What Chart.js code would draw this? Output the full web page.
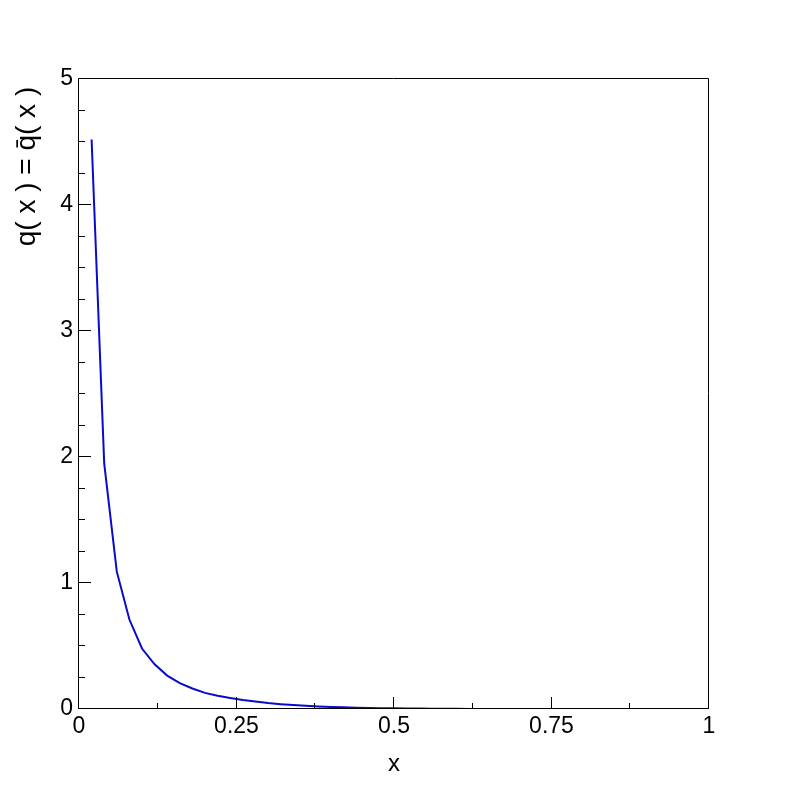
<!DOCTYPE html>
<html>
<head>
<meta charset="utf-8">
<script src="https://cdn.jsdelivr.net/npm/chart.js@4.4.1/dist/chart.umd.min.js"></script>
<style>
  body { margin: 0; background: #fff; }
  #wrap { width: 788px; height: 788px; }
</style>
</head>
<body>
<div id="wrap"><canvas id="pdfChart"></canvas></div>
<script>
const xValues = [0.02, 0.04, 0.06, 0.08, 0.10, 0.12, 0.14, 0.16, 0.18, 0.20,
  0.22, 0.24, 0.26, 0.28, 0.30, 0.32, 0.34, 0.36, 0.38, 0.40,
  0.42, 0.44, 0.46, 0.48, 0.50, 0.52, 0.54, 0.56, 0.58, 0.60, 0.62];
const qValues = [4.52, 1.95, 1.09, 0.71, 0.48, 0.355, 0.265, 0.205, 0.163, 0.128,
  0.105, 0.088, 0.072, 0.059, 0.047, 0.038, 0.031, 0.025, 0.020, 0.016,
  0.013, 0.010, 0.008, 0.006, 0.005, 0.004, 0.003, 0.002, 0.0015, 0.001, 0.0005];
const xTickLabels = ["0", "0.25", "0.5", "0.75", "1"];
const yTickLabels = ["0", "1", "2", "3", "4", "5"];

const points = xValues.map((x, i) => ({ x: x, y: qValues[i] }));

// frame plus inward ticks, ROOT style
const framePlugin = {
  id: "frame",
  afterDraw(chart) {
    const { ctx, chartArea: a, scales } = chart;
    ctx.save();
    ctx.strokeStyle = "#000";
    ctx.lineWidth = 1;
    ctx.beginPath();
    ctx.rect(a.left - 0.5, a.top - 0.5, a.right - a.left, a.bottom - a.top);
    // x ticks
    for (let v = 0; v <= 1.0001; v += 0.125) {
      const px = Math.round(scales.x.getPixelForValue(v)) - 0.5;
      const len = Math.abs(v / 0.25 - Math.round(v / 0.25)) < 1e-6 ? 12 : 6;
      ctx.moveTo(px, a.bottom);
      ctx.lineTo(px, a.bottom - len);
    }
    // y ticks
    for (let v = 0; v <= 5.0001; v += 0.25) {
      const py = Math.round(scales.y.getPixelForValue(v)) - 0.5;
      const len = Math.abs(v - Math.round(v)) < 1e-6 ? 12 : 6;
      ctx.moveTo(a.left, py);
      ctx.lineTo(a.left + len, py);
    }
    ctx.stroke();
    ctx.restore();
  },
};

new Chart(document.getElementById("pdfChart"), {
  type: "line",
  data: {
    datasets: [
      {
        data: points,
        borderColor: "#0a0acc",
        borderWidth: 2,
        pointRadius: 0,
        tension: 0,
        fill: false,
      },
    ],
  },
  options: {
    responsive: true,
    maintainAspectRatio: false,
    animation: false,
    layout: { padding: { left: 0, right: 79, top: 79, bottom: 0 } },
    plugins: { legend: { display: false }, tooltip: { enabled: false } },
    scales: {
      x: {
        type: "linear",
        min: 0,
        max: 1,
        afterFit: (s) => { s.height = 79; },
        grid: { display: false, drawTicks: false, tickLength: 0 },
        border: { display: false },
        ticks: {
          stepSize: 0.25,
          padding: 4,
          maxRotation: 0,
          color: "#000",
          font: { family: "Liberation Sans", size: 23 },
          callback: (v) => xTickLabels[Math.round(v / 0.25)],
        },
        title: {
          display: true,
          text: "x",
          color: "#000",
          font: { family: "Liberation Sans", size: 24 },
          padding: { top: 0, bottom: 9 },
        },
      },
      y: {
        min: 0,
        max: 5,
        afterFit: (s) => { s.width = 79; },
        grid: { display: false, drawTicks: false, tickLength: 0 },
        border: { display: false },
        ticks: {
          stepSize: 1,
          padding: 6,
          color: "#000",
          font: { family: "Liberation Sans", size: 23 },
          callback: (v) => yTickLabels[Math.round(v)],
        },
        title: {
          display: true,
          align: "end",
          text: "q( x ) = q\u0304( x ) ",
          color: "#000",
          font: { family: "Liberation Sans", size: 28 },
          padding: { top: 10, bottom: 0 },
        },
      },
    },
  },
  plugins: [framePlugin],
});
</script>
</body>
</html>
